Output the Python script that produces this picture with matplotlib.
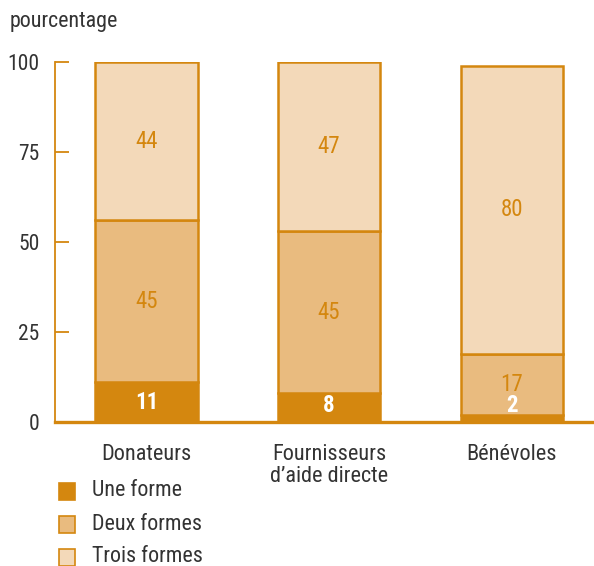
import matplotlib.pyplot as plt
from matplotlib.patches import Rectangle

plt.rcParams['font.family'] = ['Roboto Condensed', 'Liberation Sans Narrow', 'Roboto', 'DejaVu Sans']

categories = ['Donateurs', 'Fournisseurs\nd\u2019aide directe', 'B\u00e9n\u00e9voles']
une = [11, 8, 2]
deux = [45, 45, 17]
trois = [44, 47, 80]
series_names = ['Une forme', 'Deux formes', 'Trois formes']
yticks = [0, 25, 50, 75, 100]

orange = '#D4870F'
colors = ['#D4870F', '#E9BB7F', '#F3D9B9']
text_col = '#333333'

fig = plt.figure(figsize=(5.94, 5.66), dpi=100)
ax = fig.add_axes([0.0926, 0.2545, 0.9074, 0.636])

x = range(len(categories))
bottom = [0] * len(categories)
for vals, col in zip([une, deux, trois], colors):
    ax.bar(x, vals, bottom=bottom, width=0.56, color=col,
           edgecolor=orange, linewidth=1.8, zorder=2)
    for i, v in enumerate(vals):
        if col == colors[0]:
            ax.text(i, max(v / 2, 4.6), str(v), ha='center', va='center',
                    color='white', fontsize=16.5, fontweight='bold', zorder=3)
        else:
            ax.text(i, bottom[i] + v / 2, str(v), ha='center', va='center',
                    color=orange, fontsize=16.5, zorder=3)
    bottom = [b + v for b, v in zip(bottom, vals)]

ax.set_xlim(-0.5, 2.45)
ax.set_ylim(0, 100)
ax.set_yticks(yticks)
ax.set_yticklabels([str(t) for t in yticks], fontsize=15.5, color=text_col)
ax.set_xticks(list(x))
ax.set_xticklabels(categories, fontsize=16, color=text_col, linespacing=1.05)
ax.tick_params(axis='y', direction='in', length=10, width=1.3, color=orange, pad=11)
ax.tick_params(axis='x', length=0, pad=16)

for s in ['top', 'right']:
    ax.spines[s].set_visible(False)
ax.spines['left'].set_color(orange)
ax.spines['left'].set_linewidth(1.3)
ax.spines['bottom'].set_color(orange)
ax.spines['bottom'].set_linewidth(2.4)
ax.spines['bottom'].set_zorder(4)

fig.text(0.017, 0.962, 'pourcentage', fontsize=15.8, color=text_col, va='center')

# legend
for k, (name, col) in enumerate(zip(series_names, colors)):
    yc = 1 - (491 + 33 * k) / 566
    fig.patches.append(Rectangle((59 / 594, yc - 8.5 / 566), 16 / 594, 17 / 566,
                                 transform=fig.transFigure, facecolor=col,
                                 edgecolor=orange, linewidth=1.2))
    fig.text(92 / 594, yc, name, fontsize=15.8, color=text_col, va='center')

fig.savefig('out.png', dpi=100)
